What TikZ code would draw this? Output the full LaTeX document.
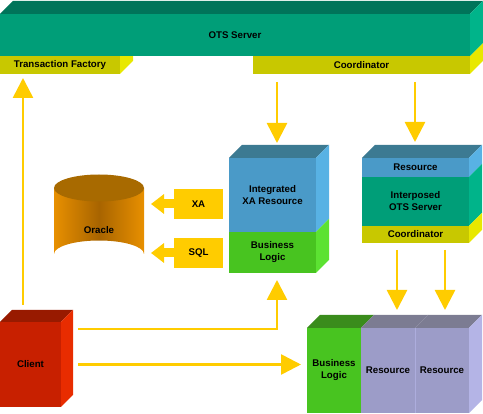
\documentclass[tikz,border=0pt]{standalone}
\usepackage{fontspec}
\setmainfont{Liberation Sans}
\usetikzlibrary{arrows.meta,positioning,calc}
\definecolor{otsF}{HTML}{009E78}
\definecolor{otsT}{HTML}{00745A}
\definecolor{otsS}{HTML}{00B48A}
\definecolor{barF}{HTML}{C8C800}
\definecolor{barS}{HTML}{E8E800}
\definecolor{xaF} {HTML}{4A9AC8}
\definecolor{xaT} {HTML}{3C7A92}
\definecolor{xaS} {HTML}{58B2E4}
\definecolor{blF} {HTML}{48C420}
\definecolor{blT} {HTML}{3A8C1C}
\definecolor{blS} {HTML}{5CE232}
\definecolor{cliF}{HTML}{C82000}
\definecolor{cliT}{HTML}{981A00}
\definecolor{cliS}{HTML}{E82C00}
\definecolor{resF}{HTML}{9C9CC8}
\definecolor{resT}{HTML}{7C7C92}
\definecolor{resS}{HTML}{B4B4E6}
\definecolor{oraL}{HTML}{E89000}
\definecolor{oraM}{HTML}{A86400}
\definecolor{oraT}{HTML}{A86A00}
\definecolor{arrY}{HTML}{FFCC00}
\newcommand\lblfont{\fontsize{9.7}{12}\selectfont\bfseries}
% front faces are nodes, top and side faces hang off their anchors
\newcommand\topface[2]{\fill[#2] (#1.north west) -- ++(13,-13)
  -- ([shift={(13,-13)}]#1.north east) -- (#1.north east) -- cycle;}
\newcommand\sideface[2]{\fill[#2] (#1.north east) -- ++(13,-13)
  -- ([shift={(13,-13)}]#1.south east) -- (#1.south east) -- cycle;}
\tikzset{
  blk/.style  ={inner sep=0pt,align=center,font=\lblfont,text=black,anchor=north west},
  ots/.style  ={blk,fill=otsF},
  bar/.style  ={blk,fill=barF},
  xa/.style   ={blk,fill=xaF},
  bl/.style   ={blk,fill=blF},
  cli/.style  ={blk,fill=cliF},
  res/.style  ={blk,fill=resF},
  tag/.style  ={blk,fill=arrY,minimum width=49,minimum height=30},
  flow/.style ={-{Triangle[length=20pt,width=20pt]},draw=arrY,line width=2.6pt},
  fat/.style  ={-{Triangle[length=13pt,width=19pt]},draw=arrY,line width=9pt},
}
\begin{document}
\begin{tikzpicture}[x=1pt,y=-1pt,every node/.style={outer sep=0pt}]
\useasboundingbox (0,0) rectangle (483,414);

% ---- OTS server with its two interfaces ----------------------------------
\node[bar,minimum width=120,minimum height=18] (tf) at (0,56) {Transaction Factory};
\node[bar,minimum width=217,minimum height=18] (coord) at (253,56) {Coordinator};
\sideface{tf}{barS}
\sideface{coord}{barS}
\node[ots,minimum width=470,minimum height=42] (ots) at (0,14) {OTS Server};
\topface{ots}{otsT}
\sideface{ots}{otsS}

% ---- Integrated XA resource ----------------------------------------------
\node[xa,minimum width=87,minimum height=74] (ixa) at (229,158) {Integrated\\XA Resource};
\node[bl,minimum width=87,minimum height=41] (ixabl) at (ixa.south west) {Business\\Logic};
\topface{ixa}{xaT}
\sideface{ixa}{xaS}
\sideface{ixabl}{blS}

% ---- Interposed OTS server -----------------------------------------------
\node[xa,minimum width=107,minimum height=19] (ires) at (362,158) {Resource};
\node[ots,minimum width=107,minimum height=49] (iots) at (ires.south west) {Interposed\\OTS Server};
\node[bar,minimum width=107,minimum height=17] (icoord) at (iots.south west) {Coordinator};
\topface{ires}{xaT}
\sideface{ires}{xaS}
\sideface{iots}{otsS}
\sideface{icoord}{barS}

% ---- Oracle --------------------------------------------------------------
\shade[left color=oraL,right color=oraL,middle color=oraM]
  (54,188) -- (54,254) arc[start angle=180,end angle=360,x radius=45,y radius=13.5]
  -- (144,188) -- cycle;
\fill[oraT] (99,188) ellipse[x radius=45,y radius=13.5];
\node[font=\lblfont,minimum width=90,minimum height=20,inner sep=0pt] (oracle) at (99,230) {Oracle};
\node[tag] (xa) at (174,189) {XA};
\node[tag] (sql) at (174,238) {SQL};
\draw[fat,shorten >=7pt] (xa.west) -- (xa.west -| oracle.east);
\draw[fat,shorten >=7pt] (sql.west) -- (sql.west -| oracle.east);

% ---- Client --------------------------------------------------------------
\node[cli,minimum width=61,minimum height=85] (client) at (0,322) {Client};
\fill[cliT] (client.north west) -- ++(12,-12) -- ([shift={(12,-12)}]client.north east)
  -- (client.north east) -- cycle;
\fill[cliS] (client.north east) -- ++(12,-12) -- ([shift={(12,-12)}]client.south east)
  -- (client.south east) -- cycle;

% ---- Business logic with resources ---------------------------------------
\node[bl,minimum width=54,minimum height=85] (bl) at (307,328) {Business\\Logic};
\node[res,minimum width=54,minimum height=85] (r1) at (bl.north east) {Resource};
\node[res,minimum width=54,minimum height=85] (r2) at (r1.north east) {Resource};
\topface{bl}{blT}
\topface{r1}{resT}
\topface{r2}{resT}
\sideface{r2}{resS}
\draw[resS!70!resF,line width=0.8pt] (r1.north east) -- (r1.south east);

% ---- flows ---------------------------------------------------------------
\draw[flow,shorten >=4pt] (client.north -| 23,0) ++(0,-17) -- (tf.south -| 23,0);
\draw[flow,shorten >=15pt] (coord.south -| 277,0) ++(0,8) -- (ixa.north -| 277,0);
\draw[flow,shorten >=16pt] (coord.south -| 415,0) ++(0,8) -- (ires.north -| 415,0);
\draw[flow,shorten >=18pt] (icoord.south -| 397,0) ++(0,7) -- (r1.north -| 397,0);
\draw[flow,shorten >=18pt] (icoord.south -| 445,0) ++(0,7) -- (r2.north -| 445,0);
\draw[flow,shorten >=7pt] (client.north east) ++(17,7) -| (ixabl.south -| 277,0);
\draw[flow,shorten >=6pt] (client.east) ++(17,0) -- (client.east -| bl.west);
\end{tikzpicture}
\end{document}
